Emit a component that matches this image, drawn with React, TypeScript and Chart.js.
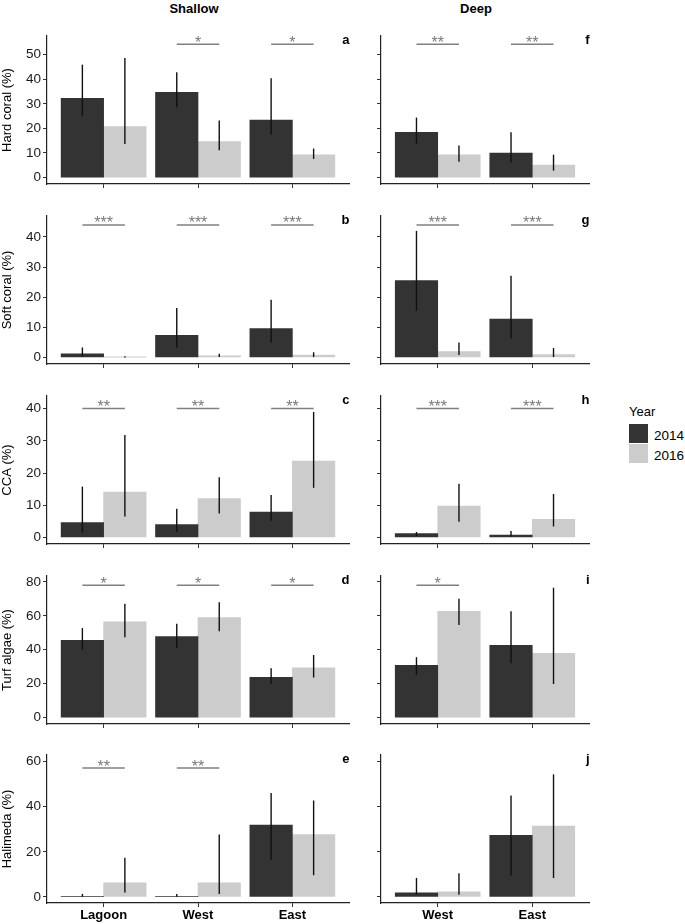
import React, { useEffect, useRef } from "react";
import { Chart, registerables } from "chart.js";

Chart.register(...registerables);
Chart.defaults.font.family = "'Liberation Sans', Arial, sans-serif";

// ---------- categories ----------
const shallowSites = ["Lagoon", "West", "East"];
const deepSites = ["West", "East"];
const years = ["2014", "2016"];
const depthTitles = ["Shallow", "Deep"];

// ---------- Hard coral ----------
const hardShallow2014 = [32.2, 34.7, 23.4];
const hardShallow2014Ci = [[24.9, 45.9], [28.6, 42.8], [17.5, 40.4]];
const hardShallow2016 = [20.7, 14.6, 9.3];
const hardShallow2016Ci = [[13.7, 48.6], [11.1, 23.2], [7.6, 11.8]];
const hardShallowSig = ["", "*", "*"];
const hardDeep2014 = [18.4, 10.0];
const hardDeep2014Ci = [[13.8, 24.4], [6.1, 18.4]];
const hardDeep2016 = [9.3, 5.1];
const hardDeep2016Ci = [[6.4, 13.0], [2.8, 9.3]];
const hardDeepSig = ["**", "**"];
const hardTicks = [0, 10, 20, 30, 40, 50];

// ---------- Soft coral ----------
const softShallow2014 = [1.2, 7.3, 9.6];
const softShallow2014Ci = [[0.3, 3.3], [3.3, 16.4], [4.9, 19.1]];
const softShallow2016 = [0.1, 0.55, 0.8];
const softShallow2016Ci = [[0.0, 0.4], [0.1, 1.2], [0.1, 1.7]];
const softShallowSig = ["***", "***", "***"];
const softDeep2014 = [25.5, 12.7];
const softDeep2014Ci = [[15.5, 42.0], [6.2, 27.1]];
const softDeep2016 = [1.9, 0.9];
const softDeep2016Ci = [[0.8, 4.9], [0.1, 3.1]];
const softDeepSig = ["***", "***"];
const softTicks = [0, 10, 20, 30, 40];

// ---------- CCA ----------
const ccaShallow2014 = [4.6, 4.0, 7.9];
const ccaShallow2014Ci = [[1.5, 15.8], [1.7, 8.9], [5.2, 13.2]];
const ccaShallow2016 = [14.1, 12.1, 23.7];
const ccaShallow2016Ci = [[6.5, 31.8], [7.4, 18.7], [15.4, 39.0]];
const ccaShallowSig = ["**", "**", "**"];
const ccaDeep2014 = [1.2, 0.7];
const ccaDeep2014Ci = [[0.4, 1.7], [0.2, 2.0]];
const ccaDeep2016 = [9.7, 5.6];
const ccaDeep2016Ci = [[4.9, 16.7], [3.4, 13.5]];
const ccaDeepSig = ["***", "***"];
const ccaTicks = [0, 10, 20, 30, 40];

// ---------- Turf algae ----------
const turfShallow2014 = [45.6, 47.7, 23.8];
const turfShallow2014Ci = [[39.9, 52.8], [40.9, 55.4], [19.8, 29.1]];
const turfShallow2016 = [56.4, 58.9, 29.3];
const turfShallow2016Ci = [[47.3, 67.2], [50.9, 68.0], [23.6, 36.9]];
const turfShallowSig = ["*", "*", "*"];
const turfDeep2014 = [30.8, 42.6];
const turfDeep2014Ci = [[25.1, 35.6], [32.0, 62.7]];
const turfDeep2016 = [62.7, 37.9];
const turfDeep2016Ci = [[54.6, 70.1], [19.8, 76.6]];
const turfDeepSig = ["*", ""];
const turfTicks = [0, 20, 40, 60, 80];

// ---------- Halimeda ----------
const halShallow2014 = [0.2, 0.2, 31.9];
const halShallow2014Ci = [[0.0, 1.3], [0.0, 1.2], [16.3, 46.1]];
const halShallow2016 = [6.2, 6.2, 27.6];
const halShallow2016Ci = [[1.9, 17.3], [1.3, 27.7], [9.6, 42.8]];
const halShallowSig = ["**", "**", ""];
const halDeep2014 = [1.8, 27.3];
const halDeep2014Ci = [[0.9, 8.4], [9.5, 45.0]];
const halDeep2016 = [2.2, 31.4];
const halDeep2016Ci = [[0.9, 10.5], [8.3, 54.4]];
const halDeepSig = ["", ""];
const halTicks = [0, 20, 40, 60];

// ---------- per-row axis info ----------
const yTitles = ["Hard coral (%)", "Soft coral (%)", "CCA (%)", "Turf algae (%)", "Halimeda (%)"];
const bracketLevels = [54.2, 44.0, 40.1, 78.0, 57.2];
const yAxisMin = [-2.6, -2.2, -2.05, -3.8, -2.75];
const yAxisMax = [57.55, 46.95, 43.95, 83.5, 63.0];
const shallowLetters = ["a", "b", "c", "d", "e"];
const deepLetters = ["f", "g", "h", "i", "j"];

// ---------- layout (pixels) ----------
const ROW_TOPS = [36, 216, 396, 576, 755];
const PLOT_H = 148;
const COL_L = [47, 381];
const COL_R = [349, 589];
const DARK = "#333333";
const LIGHT = "#CCCCCC";

type PanelProps = {
  row: number;
  col: number;
  sites: string[];
  m14: number[];
  c14: number[][];
  m16: number[];
  c16: number[][];
  sig: string[];
  ticks: number[];
  letter: string;
};

function Panel(p: PanelProps) {
  const ref = useRef<HTMLCanvasElement>(null);
  const showX = p.row === 4;
  const yW = p.col === 0 ? 47 : 40;
  const padT = 12;
  const padR = 7;
  const xH = showX ? 22 : 12;
  const plotL = COL_L[p.col];
  const plotR = COL_R[p.col];
  const cLeft = plotL - yW;
  const cW = yW + (plotR - plotL) + padR;
  const cTop = ROW_TOPS[p.row] - padT;
  const cH = padT + PLOT_H + xH;

  useEffect(() => {
    if (!ref.current) return;
    const sites = p.sites;
    const overlay = {
      id: "overlay" + p.letter,
      afterDatasetsDraw(chart: any) {
        const ctx = chart.ctx;
        const ys = chart.scales.y;
        ctx.save();
        // error bars
        [p.c14, p.c16].forEach((ci, di) => {
          const meta = chart.getDatasetMeta(di);
          meta.data.forEach((bar: any, j: number) => {
            ctx.beginPath();
            ctx.moveTo(bar.x, ys.getPixelForValue(ci[j][0]));
            ctx.lineTo(bar.x, ys.getPixelForValue(ci[j][1]));
            ctx.strokeStyle = "#111111";
            ctx.lineWidth = 1.4;
            ctx.stroke();
          });
        });
        // significance brackets
        const m0 = chart.getDatasetMeta(0);
        const m1 = chart.getDatasetMeta(1);
        p.sig.forEach((s, j) => {
          if (!s) return;
          const x1 = m0.data[j].x;
          const x2 = m1.data[j].x;
          const yy = ys.getPixelForValue(bracketLevels[p.row]);
          ctx.beginPath();
          ctx.moveTo(x1, yy);
          ctx.lineTo(x2, yy);
          ctx.strokeStyle = "#808080";
          ctx.lineWidth = 1.5;
          ctx.stroke();
          ctx.fillStyle = "#7a7a7a";
          ctx.font = "16px 'Liberation Sans', Arial, sans-serif";
          ctx.textAlign = "center";
          ctx.textBaseline = "alphabetic";
          ctx.fillText(s, (x1 + x2) / 2, yy + 3.5);
        });
        // panel letter
        ctx.fillStyle = "#000";
        ctx.font = "bold 13px 'Liberation Sans', Arial, sans-serif";
        ctx.textAlign = "right";
        ctx.textBaseline = "alphabetic";
        ctx.fillText(p.letter, chart.chartArea.right + 0.5, chart.chartArea.top + 7.5);
        ctx.restore();
      },
    };

    const chart = new Chart(ref.current, {
      type: "bar",
      data: {
        datasets: [
          {
            label: years[0],
            data: p.m14.map((v, i) => ({ x: i + 1, y: v })),
            backgroundColor: DARK,
            borderWidth: 0,
            barThickness: 42.5,
          },
          {
            label: years[1],
            data: p.m16.map((v, i) => ({ x: i + 1, y: v })),
            backgroundColor: LIGHT,
            borderWidth: 0,
            barThickness: 42.5,
          },
        ],
      },
      options: {
        animation: false,
        responsive: false,
        devicePixelRatio: 1,
        layout: { padding: { top: padT, right: padR, left: 0, bottom: 0 } },
        plugins: { legend: { display: false }, tooltip: { enabled: false } },
        scales: {
          x: {
            type: "linear",
            min: 0.4,
            max: sites.length + 0.6,
            offset: false,
            bounds: "data",
            afterBuildTicks: (s: any) => {
              s.ticks = sites.map((_, i) => ({ value: i + 1 }));
            },
            afterFit: (s: any) => {
              s.height = xH;
            },
            ticks: {
              display: showX,
              callback: (v: any) => sites[Math.round(Number(v)) - 1] ?? "",
              font: { size: 13, weight: "bold" },
              color: "#000",
              padding: 1,
              autoSkip: false,
              maxRotation: 0,
            },
            grid: {
              display: true,
              offset: false,
              drawOnChartArea: false,
              drawTicks: true,
              tickLength: 4,
              color: "#333",
              lineWidth: 1,
            },
            border: { display: true, color: "#222", width: 1.2 },
          },
          y: {
            type: "linear",
            min: yAxisMin[p.row],
            max: yAxisMax[p.row],
            bounds: "data",
            afterBuildTicks: (s: any) => {
              s.ticks = p.ticks.map((v) => ({ value: v }));
            },
            afterFit: (s: any) => {
              s.width = yW;
            },
            ticks: {
              display: p.col === 0,
              font: { size: 13.5 },
              color: "#1a1a1a",
              padding: 2,
            },
            grid: {
              display: true,
              drawOnChartArea: false,
              drawTicks: true,
              tickLength: 4,
              color: "#333",
              lineWidth: 1,
            },
            border: { display: true, color: "#222", width: 1.2 },
            title: {
              display: p.col === 0,
              text: yTitles[p.row],
              font: { size: 13 },
              color: "#000",
              padding: 0,
            },
          },
        },
      },
      plugins: [overlay],
    } as any);
    return () => chart.destroy();
  }, []);

  return (
    <canvas
      ref={ref}
      width={cW}
      height={cH}
      style={{ position: "absolute", left: cLeft, top: cTop, width: cW, height: cH }}
    />
  );
}

const shallowPanels = [
  { m14: hardShallow2014, c14: hardShallow2014Ci, m16: hardShallow2016, c16: hardShallow2016Ci, sig: hardShallowSig, ticks: hardTicks },
  { m14: softShallow2014, c14: softShallow2014Ci, m16: softShallow2016, c16: softShallow2016Ci, sig: softShallowSig, ticks: softTicks },
  { m14: ccaShallow2014, c14: ccaShallow2014Ci, m16: ccaShallow2016, c16: ccaShallow2016Ci, sig: ccaShallowSig, ticks: ccaTicks },
  { m14: turfShallow2014, c14: turfShallow2014Ci, m16: turfShallow2016, c16: turfShallow2016Ci, sig: turfShallowSig, ticks: turfTicks },
  { m14: halShallow2014, c14: halShallow2014Ci, m16: halShallow2016, c16: halShallow2016Ci, sig: halShallowSig, ticks: halTicks },
];
const deepPanels = [
  { m14: hardDeep2014, c14: hardDeep2014Ci, m16: hardDeep2016, c16: hardDeep2016Ci, sig: hardDeepSig, ticks: hardTicks },
  { m14: softDeep2014, c14: softDeep2014Ci, m16: softDeep2016, c16: softDeep2016Ci, sig: softDeepSig, ticks: softTicks },
  { m14: ccaDeep2014, c14: ccaDeep2014Ci, m16: ccaDeep2016, c16: ccaDeep2016Ci, sig: ccaDeepSig, ticks: ccaTicks },
  { m14: turfDeep2014, c14: turfDeep2014Ci, m16: turfDeep2016, c16: turfDeep2016Ci, sig: turfDeepSig, ticks: turfTicks },
  { m14: halDeep2014, c14: halDeep2014Ci, m16: halDeep2016, c16: halDeep2016Ci, sig: halDeepSig, ticks: halTicks },
];

const FONT = "'Liberation Sans', Arial, sans-serif";

export default function App() {
  return (
    <div
      style={{
        position: "absolute",
        left: 0,
        top: 0,
        width: 685,
        height: 924,
        background: "#fff",
        fontFamily: FONT,
        overflow: "hidden",
      }}
    >
      <div style={{ position: "absolute", left: 144, width: 100, top: 1, textAlign: "center", fontWeight: "bold", fontSize: 13, lineHeight: "15px" }}>
        {depthTitles[0]}
      </div>
      <div style={{ position: "absolute", left: 426, width: 100, top: 1, textAlign: "center", fontWeight: "bold", fontSize: 13, lineHeight: "15px" }}>
        {depthTitles[1]}
      </div>

      {shallowPanels.map((d, r) => (
        <Panel key={"s" + r} row={r} col={0} sites={shallowSites} letter={shallowLetters[r]} {...d} />
      ))}
      {deepPanels.map((d, r) => (
        <Panel key={"d" + r} row={r} col={1} sites={deepSites} letter={deepLetters[r]} {...d} />
      ))}

      {/* legend */}
      <div style={{ position: "absolute", left: 629, top: 404, fontSize: 13, lineHeight: "15px", color: "#000" }}>Year</div>
      <div style={{ position: "absolute", left: 629, top: 424, width: 18.5, height: 19, background: DARK }} />
      <div style={{ position: "absolute", left: 629, top: 444, width: 18.5, height: 19, background: LIGHT }} />
      <div style={{ position: "absolute", left: 654, top: 427.5, fontSize: 13.5, lineHeight: "15px", color: "#000" }}>{years[0]}</div>
      <div style={{ position: "absolute", left: 654, top: 447.5, fontSize: 13.5, lineHeight: "15px", color: "#000" }}>{years[1]}</div>
    </div>
  );
}
